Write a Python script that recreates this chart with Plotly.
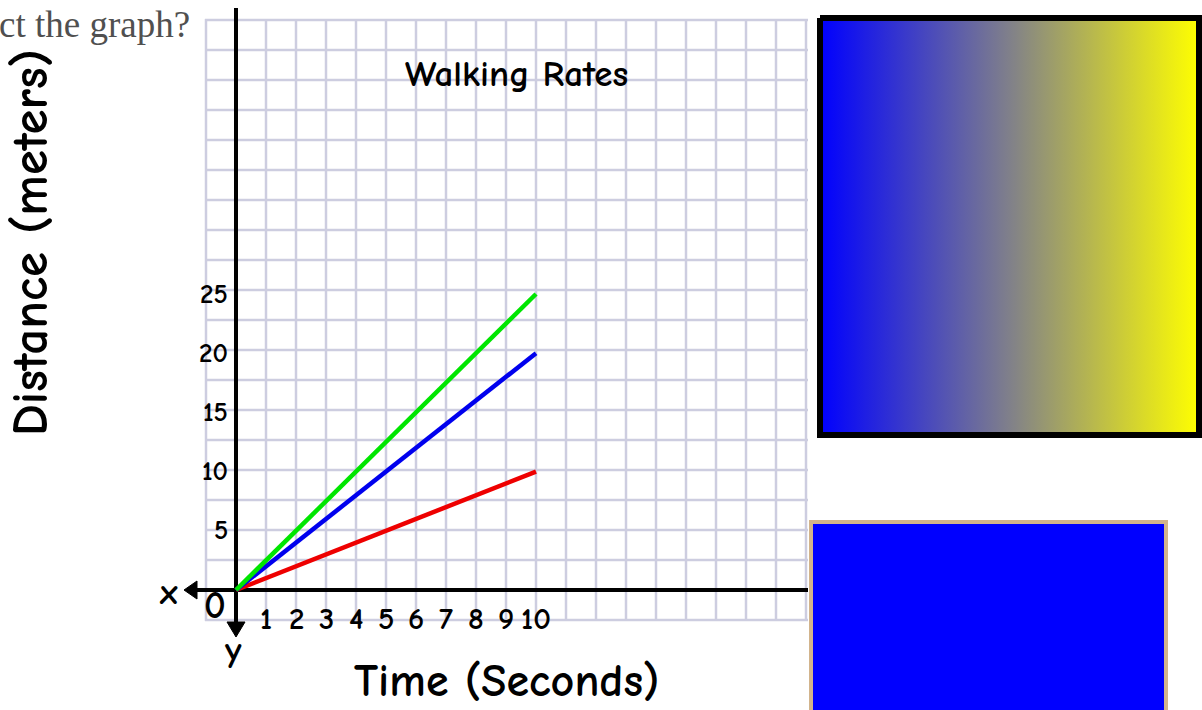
import plotly.graph_objects as go

# ---- data ----
time_s = [0, 10]
green_dist = [0, 25]
blue_dist = [0, 20]
red_dist = [0, 10]
x_tick_vals = [1, 2, 3, 4, 5, 6, 7, 8, 9, 10]
y_tick_vals = [5, 10, 15, 20, 25]
title_text = "Walking Rates"
x_title = "Time (Seconds)"
y_title = "Distance (meters)"
header_text = "ct the graph?"

# ---- page geometry (pixel mapping of the axes) ----
W, H = 1202, 710
X0, SX = 236, 30.0     # px of x=0, px per second
Y0, SY = 590, 11.84    # px of y=0, px per meter


def dx(p):
    return (p - X0) / SX


def dy(p):
    return (Y0 - p) / SY


COMIC = "Comic Sans MS, Comic Neue, Lato, sans-serif"

fig = go.Figure()

shapes = []
# graph-paper grid
grid_col = "#cdcde0"
for i in range(21):
    px = 206 + 30 * i
    shapes.append(dict(type="line", xref="x", yref="y", x0=dx(px), x1=dx(px),
                       y0=dy(19), y1=dy(621), line=dict(color=grid_col, width=2.5), layer="below"))
for j in range(21):
    py = 20 + 30 * j
    shapes.append(dict(type="line", xref="x", yref="y", x0=dx(205), x1=dx(808),
                       y0=dy(py), y1=dy(py), line=dict(color=grid_col, width=2.5), layer="below"))
# axes
shapes.append(dict(type="line", xref="x", yref="y", x0=dx(192), x1=dx(808), y0=0, y1=0,
                   line=dict(color="black", width=4), layer="below"))
shapes.append(dict(type="line", xref="x", yref="y", x0=0, x1=0, y0=dy(8), y1=dy(626),
                   line=dict(color="black", width=4), layer="below"))
# arrow heads
shapes.append(dict(type="path", xref="x", yref="y",
                   path=f"M {dx(184)},{dy(590)} L {dx(197)},{dy(581)} L {dx(197)},{dy(599)} Z",
                   fillcolor="black", line=dict(color="black", width=1)))
shapes.append(dict(type="path", xref="x", yref="y",
                   path=f"M {dx(236)},{dy(637)} L {dx(227)},{dy(622)} L {dx(245)},{dy(622)} Z",
                   fillcolor="black", line=dict(color="black", width=1)))
# bottom blue box
shapes.append(dict(type="rect", xref="x", yref="y", x0=dx(811), x1=dx(1166), y0=dy(522), y1=dy(720),
                   fillcolor="#0000ff", line=dict(color="#d2b48c", width=4)))

# gradient box
fig.add_trace(go.Scatter(
    x=[dx(820), dx(1199), dx(1199), dx(820), dx(820)],
    y=[dy(18), dy(18), dy(435), dy(435), dy(18)],
    mode="lines", fill="toself",
    fillgradient=dict(type="horizontal", colorscale=[[0, "#0000ff"], [0.5, "#80808a"], [1, "#ffff00"]]),
    line=dict(color="black", width=6), hoverinfo="skip", showlegend=False))

# data lines
for ys, col in [(red_dist, "#ee0000"), (blue_dist, "#0000ee"), (green_dist, "#00e600")]:
    fig.add_trace(go.Scatter(x=time_s, y=ys, mode="lines", line=dict(color=col, width=4.5),
                             showlegend=False))

ann = []
for v in y_tick_vals:
    ann.append(dict(x=dx(230), y=v, xref="x", yref="y", text=f"<b>{v}</b>", showarrow=False,
                    xanchor="right", yanchor="middle", font=dict(family=COMIC, size=27, color="black")))
for v in x_tick_vals:
    ann.append(dict(x=v, y=dy(619), xref="x", yref="y", text=f"<b>{v}</b>", showarrow=False,
                    xanchor="center", yanchor="middle", font=dict(family=COMIC, size=31, color="black")))
ann.append(dict(x=dx(215), y=dy(606), xref="x", yref="y", text="<b>0</b>", showarrow=False,
                font=dict(family=COMIC, size=38, color="black")))
ann.append(dict(x=dx(168), y=dy(592), xref="x", yref="y", text="<b>x</b>", showarrow=False,
                font=dict(family=COMIC, size=36, color="black")))
ann.append(dict(x=dx(233), y=dy(650), xref="x", yref="y", text="<b>y</b>", showarrow=False,
                font=dict(family=COMIC, size=36, color="black")))
ann.append(dict(x=dx(516), y=dy(74), xref="x", yref="y", text=f"<b>{title_text}</b>", showarrow=False,
                font=dict(family=COMIC, size=37, color="black")))
ann.append(dict(x=dx(506), y=dy(681), xref="x", yref="y", text=f"<b>{x_title}</b>", showarrow=False,
                font=dict(family=COMIC, size=46, color="black")))
ann.append(dict(x=dx(30), y=dy(243), xref="x", yref="y", text=f"<b>{y_title}</b>", showarrow=False,
                textangle=-90, font=dict(family=COMIC, size=51, color="black")))
ann.append(dict(x=-3 / W, y=1 - 25 / H, xref="paper", yref="paper", text=header_text, showarrow=False,
                xanchor="left", yanchor="middle",
                font=dict(family="Liberation Serif, Times New Roman, serif", size=37, color="#505050")))

fig.update_layout(
    width=W, height=H,
    margin=dict(l=0, r=0, t=0, b=0),
    paper_bgcolor="white", plot_bgcolor="white",
    xaxis=dict(range=[dx(0), dx(W)], visible=False, fixedrange=True),
    yaxis=dict(range=[dy(H), dy(0)], visible=False, fixedrange=True),
    shapes=shapes, annotations=ann, showlegend=False,
)

fig.write_html("out.html", config={"displayModeBar": False},
               post_script="document.body.style.margin='0';")
